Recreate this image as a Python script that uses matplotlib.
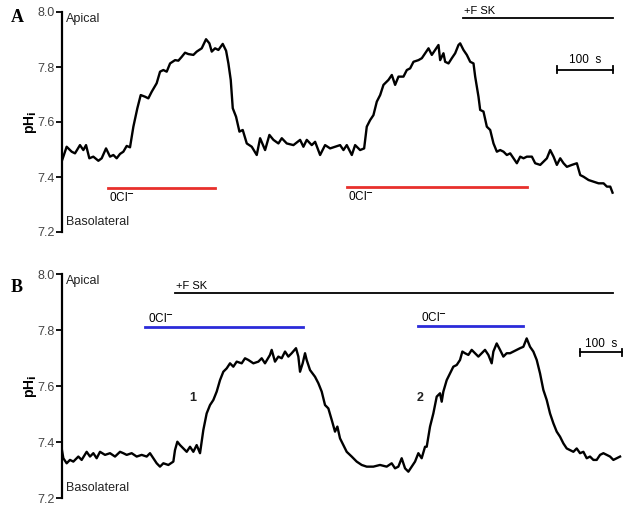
import numpy as np
import matplotlib.pyplot as plt

plt.rcParams['font.family'] = ['Liberation Sans', 'DejaVu Sans']

# Panel A trace (time in s, pHi)
time_a = [0, 2.4, 8.3, 17.3, 23.2, 32.1, 38.1, 42.9, 48.8, 55.9, 64.9, 70.8, 78.6, 85.7, 91.7, 97.6,
          103.6, 109.5, 115.5, 121.4, 127.4, 134.5, 140.5, 148.2, 154.1, 160.1, 169.0, 175.0, 180.9,
          186.9, 192.9, 201.8, 207.7, 213.7, 219.6, 225.6, 234.5, 240.5, 249.4, 257.1, 263.1, 267.3,
          273.2, 279.2, 286.9, 292.9, 297.0, 301.2, 304.8, 310.7, 316.7, 322.6, 329.8, 338.7, 347.6,
          353.6, 362.5, 370.2, 377.4, 386.3, 392.3, 401.2, 413.1, 425.0, 430.9, 436.9, 445.8, 451.8,
          460.7, 469.6, 478.6, 487.5, 496.4, 502.4, 508.3, 517.3, 523.2, 532.1, 539.3, 544.0, 550.0,
          555.9, 561.9, 567.9, 573.8, 582.7, 588.7, 594.6, 600.6, 609.5, 615.5, 621.4, 627.4, 636.3,
          642.3, 648.2, 654.2, 660.1, 666.1, 672.0, 675.0, 680.9, 683.9, 689.9, 695.8, 701.8, 707.7,
          710.7, 716.6, 722.6, 728.6, 734.5, 737.5, 743.4, 746.4, 752.3, 758.3, 764.3, 770.2, 776.2,
          782.1, 788.1, 794.0, 800.0, 805.9, 811.9, 817.9, 823.8, 829.8, 838.7, 844.6, 853.6, 859.5,
          865.5, 871.4, 877.4, 883.3, 889.3, 895.2, 901.2, 910.1, 919.0, 925.0, 930.9, 939.9, 948.8,
          957.7, 966.7, 972.6, 978.6, 982.7]
ph_a = [7.46, 7.474, 7.510, 7.492, 7.486, 7.516, 7.498, 7.516, 7.468, 7.474, 7.459, 7.468, 7.504, 7.474,
        7.480, 7.468, 7.484, 7.492, 7.513, 7.508, 7.583, 7.650, 7.698, 7.692, 7.686, 7.710, 7.741,
        7.783, 7.789, 7.783, 7.813, 7.825, 7.823, 7.837, 7.852, 7.847, 7.844, 7.856, 7.868, 7.901,
        7.886, 7.856, 7.868, 7.862, 7.884, 7.859, 7.813, 7.753, 7.650, 7.619, 7.565, 7.571, 7.522,
        7.510, 7.480, 7.541, 7.498, 7.553, 7.535, 7.522, 7.541, 7.522, 7.516, 7.535, 7.510, 7.535,
        7.516, 7.528, 7.480, 7.516, 7.504, 7.510, 7.516, 7.498, 7.516, 7.480, 7.516, 7.498, 7.504,
        7.583, 7.607, 7.625, 7.674, 7.698, 7.735, 7.753, 7.771, 7.735, 7.765, 7.765, 7.789, 7.795,
        7.819, 7.825, 7.832, 7.850, 7.868, 7.844, 7.862, 7.880, 7.825, 7.850, 7.819, 7.813, 7.832,
        7.850, 7.880, 7.886, 7.862, 7.844, 7.819, 7.813, 7.765, 7.692, 7.644, 7.638, 7.583, 7.571,
        7.522, 7.492, 7.498, 7.492, 7.480, 7.486, 7.468, 7.450, 7.474, 7.468, 7.474, 7.474, 7.450,
        7.444, 7.456, 7.468, 7.498, 7.474, 7.444, 7.468, 7.450, 7.437, 7.444, 7.450, 7.407, 7.401,
        7.389, 7.383, 7.377, 7.377, 7.365, 7.365, 7.343]

# Panel B trace
time_b = [0, 3.2, 11.1, 19.0, 27.0, 38.9, 46.8, 58.7, 66.7, 74.6, 82.5, 90.5, 102.4, 114.3, 126.2,
          138.1, 146.0, 154.0, 165.9, 177.8, 189.7, 201.6, 209.5, 217.5, 225.4, 233.3, 241.3, 253.2,
          265.1, 269.0, 274.6, 281.0, 289.0, 296.9, 304.8, 312.7, 320.6, 328.6, 336.5, 344.4, 352.4,
          360.3, 368.3, 376.2, 384.1, 392.1, 400.0, 407.9, 415.9, 427.8, 435.7, 443.6, 455.6, 467.5,
          475.4, 483.3, 495.2, 499.2, 507.1, 515.1, 523.0, 531.0, 538.9, 546.8, 557.1, 562.7, 566.7,
          573.0, 578.6, 582.5, 590.5, 602.4, 610.3, 618.3, 626.2, 634.1, 642.1, 650.0, 655.6, 661.9,
          669.8, 677.8, 689.7, 701.6, 713.5, 725.4, 741.3, 757.1, 773.0, 784.9, 792.9, 800.8, 808.7,
          816.7, 824.6, 832.5, 840.5, 848.4, 856.3, 864.3, 868.3, 876.2, 884.1, 892.1, 900.0, 904.0,
          907.9, 915.9, 923.8, 931.7, 939.7, 947.6, 953.2, 959.5, 967.5, 975.4, 983.3, 991.3, 999.2,
          1007.1, 1015.1, 1023.0, 1027.0, 1034.9, 1042.9, 1050.8, 1058.7, 1066.7, 1074.6, 1082.5,
          1090.5, 1098.4, 1106.3, 1114.3, 1122.2, 1130.2, 1138.1, 1146.0, 1154.0, 1161.9, 1169.8,
          1177.8, 1185.7, 1193.7, 1201.6, 1209.5, 1217.5, 1225.4, 1233.3, 1241.3, 1249.2, 1257.1,
          1265.1, 1273.0, 1281.0, 1288.9, 1296.8, 1304.8, 1312.7, 1320.6, 1328.6]
ph_b = [7.37, 7.342, 7.324, 7.336, 7.330, 7.348, 7.336, 7.365, 7.348, 7.360, 7.342, 7.365, 7.354, 7.360,
        7.348, 7.365, 7.360, 7.354, 7.360, 7.348, 7.354, 7.348, 7.360, 7.342, 7.324, 7.312, 7.324,
        7.318, 7.330, 7.371, 7.401, 7.389, 7.377, 7.365, 7.383, 7.365, 7.389, 7.360, 7.443, 7.502,
        7.532, 7.550, 7.580, 7.621, 7.651, 7.663, 7.681, 7.669, 7.687, 7.681, 7.699, 7.693, 7.681,
        7.687, 7.699, 7.681, 7.711, 7.729, 7.687, 7.705, 7.699, 7.723, 7.705, 7.717, 7.735, 7.705,
        7.651, 7.681, 7.717, 7.693, 7.657, 7.633, 7.610, 7.580, 7.532, 7.520, 7.479, 7.437, 7.455,
        7.413, 7.389, 7.365, 7.348, 7.330, 7.318, 7.312, 7.312, 7.318, 7.312, 7.324, 7.306, 7.312,
        7.342, 7.306, 7.294, 7.312, 7.330, 7.360, 7.342, 7.383, 7.383, 7.455, 7.502, 7.562, 7.574,
        7.544, 7.580, 7.621, 7.645, 7.669, 7.675, 7.693, 7.723, 7.717, 7.711, 7.729, 7.717, 7.705,
        7.717, 7.729, 7.711, 7.681, 7.723, 7.752, 7.729, 7.705, 7.717, 7.717, 7.723, 7.729, 7.735,
        7.740, 7.770, 7.740, 7.723, 7.693, 7.645, 7.586, 7.550, 7.502, 7.467, 7.437, 7.419, 7.395,
        7.377, 7.371, 7.365, 7.377, 7.360, 7.365, 7.342, 7.348, 7.336, 7.336, 7.354, 7.360, 7.354,
        7.348, 7.336, 7.342, 7.348]

# treatment bars: (start, end, level)
cl_free_a = [(82, 273, 7.36), (509, 830, 7.365)]
fsk_a = (716, 984, 7.98)
scale_a = (884, 984, 7.79)

cl_free_b = [(198, 574, 7.81), (848, 1098, 7.814)]
fsk_b = (269, 1312, 7.932)
scale_b = (1233, 1333, 7.72)

yticks = [7.2, 7.4, 7.6, 7.8, 8.0]

fig = plt.figure(figsize=(6.3, 5.07), dpi=100)
ax_a = fig.add_axes([62 / 630, 1 - 232 / 507, 558 / 630, 220 / 507])
ax_b = fig.add_axes([62 / 630, 1 - 498 / 507, 562 / 630, 224 / 507])


def style_axis(ax, xmax):
    ax.set_xlim(0, xmax)
    ax.set_ylim(7.2, 8.0)
    ax.set_yticks(yticks)
    ax.set_yticklabels(['%.1f' % v for v in yticks])
    for s in ['top', 'right', 'bottom']:
        ax.spines[s].set_visible(False)
    ax.spines['left'].set_linewidth(1.6)
    ax.set_xticks([])
    ax.tick_params(axis='y', length=4, width=1.3, labelsize=9, labelcolor='#444444', pad=1)
    ax.set_ylabel('pH$_\\mathbf{i}$', fontsize=10, fontweight='bold', labelpad=-1)
    ax.text(0.007, 0.995, 'Apical', transform=ax.transAxes, fontsize=9, va='top', ha='left', color='#222222')
    ax.text(0.007, 0.02, 'Basolateral', transform=ax.transAxes, fontsize=9, va='bottom', ha='left',
            color='#222222')


def scale_bar(ax, bar, dy):
    x0, x1, y = bar
    ax.plot([x0, x1], [y, y], color='black', lw=1.3)
    ax.plot([x0, x0], [y - 0.012, y + 0.012], color='black', lw=1.3)
    ax.plot([x1, x1], [y - 0.012, y + 0.012], color='black', lw=1.3)
    ax.text((x0 + x1) / 2, y + dy, '100  s', ha='center', va='bottom', fontsize=8.5)


# Panel A
style_axis(ax_a, 996)
ax_a.plot(time_a, ph_a, color='black', lw=1.7)
for x0, x1, y in cl_free_a:
    ax_a.plot([x0, x1], [y, y], color='#e8302c', lw=2)
    ax_a.text(x0 + 2, y - 0.012, '0Cl$^{\\mathbf{-}}$', ha='left', va='top', fontsize=8.5)
ax_a.plot([fsk_a[0], fsk_a[1]], [fsk_a[2], fsk_a[2]], color='black', lw=1.3)
ax_a.text(fsk_a[0] + 2, fsk_a[2] + 0.006, '+F SK', ha='left', va='bottom', fontsize=8)
scale_bar(ax_a, scale_a, 0.012)

# Panel B
style_axis(ax_b, 1338)
ax_b.plot(time_b, ph_b, color='black', lw=1.7)
for x0, x1, y in cl_free_b:
    ax_b.plot([x0, x1], [y, y], color='#2b2bd9', lw=2)
    ax_b.text(x0 + 6, y + 0.008, '0Cl$^{\\mathbf{-}}$', ha='left', va='bottom', fontsize=8.5)
ax_b.plot([fsk_b[0], fsk_b[1]], [fsk_b[2], fsk_b[2]], color='black', lw=1.3)
ax_b.text(fsk_b[0] + 2, fsk_b[2] + 0.008, '+F SK', ha='left', va='bottom', fontsize=8)
scale_bar(ax_b, scale_b, 0.008)
ax_b.text(312, 7.557, '1', ha='center', va='center', fontsize=9, fontweight='bold', color='#222222')
ax_b.text(852, 7.557, '2', ha='center', va='center', fontsize=9, fontweight='bold', color='#222222')

fig.text(11 / 630, 1 - 17 / 507, 'A', fontsize=13, fontweight='bold', family='Liberation Serif',
         ha='left', va='center')
fig.text(11 / 630, 1 - 287 / 507, 'B', fontsize=13, fontweight='bold', family='Liberation Serif',
         ha='left', va='center')

fig.savefig('out.png', dpi=100)
